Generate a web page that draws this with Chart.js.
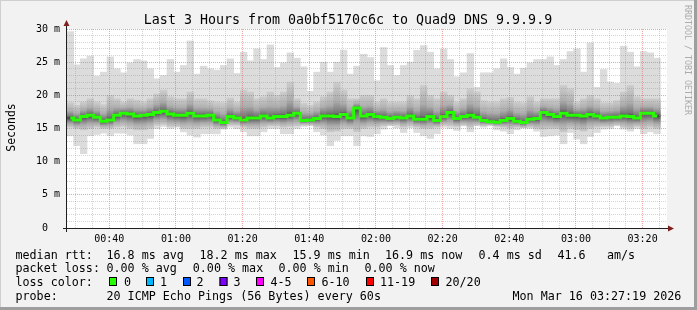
<!DOCTYPE html>
<html>
<head>
<meta charset="utf-8">
<script src="https://cdn.jsdelivr.net/npm/chart.js@4.4.1/dist/chart.umd.min.js"></script>
<style>
  html, body { margin: 0; padding: 0; background: #f2f2f2; }
  #wrap { position: relative; width: 697px; height: 310px; }
</style>
</head>
<body>
<div id="wrap"><canvas id="smoke"></canvas></div>
<script>
// graph window: 00:27:19 .. 03:27:19, one smoke column per 2 minutes
const startMin = 27 + 19 / 60;
const spanMin = 180;
const slotMin = 2;

// ping spread (ms) per slot: fastest/slowest ping, inner band, median
const pingMax = [
  29.6, 24.6, 25.5, 25.9, 22.9, 23.5, 25.8, 24.0, 23.4, 24.9, 25.4, 25.2, 24.0, 22.5, 23.0, 25.4, 23.5, 24.5, 28.2, 23.2, 24.4, 24.0, 23.8,
  24.5, 25.5, 23.3, 26.5, 25.2, 27.0, 25.4, 27.6, 24.2, 24.9, 26.4, 25.6, 24.3, 20.6, 23.5, 25.0, 23.5, 25.0, 26.8, 23.2, 24.4, 26.2, 25.7,
  22.2, 27.2, 24.5, 23.0, 24.5, 25.0, 26.8, 27.5, 26.5, 24.0, 27.0, 25.4, 22.8, 23.4, 26.3, 21.2, 23.4, 23.4, 24.0, 25.5, 24.2, 23.2,
  24.1, 24.9, 25.4, 25.4, 25.8, 24.5, 25.4, 26.6, 27.0, 23.5, 27.9, 21.2, 23.9, 22.0, 21.8, 27.4, 26.5, 24.3, 26.6, 26.4, 25.6
];
const pingMin = [
  13.9, 12.4, 11.2, 13.9, 14.1, 14.3, 13.9, 14.3, 14.3, 14.0, 12.7, 12.7, 13.5, 15.0, 15.3, 15.0, 15.2, 14.5, 14.0, 13.7, 14.2, 14.2, 14.2,
  14.9, 15.2, 15.0, 14.5, 13.9, 13.9, 14.5, 15.0, 15.0, 14.2, 14.2, 15.0, 15.3, 15.4, 14.5, 14.0, 12.4, 13.2, 13.9, 13.9, 12.4, 13.9, 13.8,
  14.2, 14.9, 15.4, 15.1, 14.4, 15.1, 14.4, 13.9, 13.5, 14.2, 15.2, 15.0, 14.7, 15.4, 14.5, 15.4, 15.2, 15.4, 14.8, 14.6, 14.2, 14.8,
  15.1, 15.0, 14.6, 13.8, 13.9, 14.0, 12.7, 14.4, 13.4, 12.7, 13.8, 14.4, 14.9, 15.0, 15.4, 14.9, 14.6, 15.0, 14.2, 14.5, 14.2
];
const upper = [
  18.9, 18.5, 19.0, 19.5, 19.0, 18.6, 20.0, 19.5, 19.0, 19.5, 19.3, 19.0, 19.5, 20.2, 20.8, 19.8, 19.5, 19.5, 20.5, 19.5, 19.5, 19.2, 19.0,
  18.9, 19.6, 19.0, 20.8, 20.5, 19.5, 19.8, 20.5, 20.0, 20.5, 22.0, 19.5, 18.8, 18.5, 19.0, 19.8, 20.5, 22.0, 20.8, 19.5, 19.5, 20.0, 20.0,
  19.0, 19.5, 19.0, 19.0, 19.0, 20.0, 19.5, 21.5, 20.0, 19.5, 20.5, 20.0, 19.0, 19.5, 21.0, 20.5, 19.2, 19.0, 19.0, 19.5, 19.7, 19.0,
  18.9, 19.8, 19.0, 19.5, 19.5, 19.5, 21.5, 21.0, 19.0, 19.5, 20.0, 19.5, 18.9, 18.9, 19.2, 20.5, 21.5, 19.8, 19.5, 19.5, 19.5
];
const lower = [
  15.2, 15.0, 14.8, 15.0, 15.2, 15.0, 15.0, 15.2, 15.3, 15.0, 14.8, 14.8, 15.0, 15.5, 15.6, 15.3, 15.3, 15.0, 15.0, 15.0, 15.2, 15.2, 15.0,
  15.0, 15.5, 15.5, 15.2, 15.0, 15.0, 15.2, 15.4, 15.4, 15.2, 15.3, 15.4, 15.5, 15.5, 15.2, 15.0, 14.5, 14.6, 15.0, 15.0, 14.5, 15.0, 15.2,
  15.2, 15.4, 15.5, 15.5, 15.2, 15.4, 15.2, 15.0, 15.0, 15.2, 15.5, 15.4, 15.3, 15.5, 15.2, 15.5, 15.4, 15.5, 15.3, 15.2, 15.0, 15.2,
  15.1, 15.2, 15.0, 14.9, 15.0, 15.0, 14.5, 15.0, 14.8, 14.6, 15.0, 15.2, 15.3, 15.3, 15.5, 15.2, 15.0, 15.3, 15.0, 15.2, 15.0
];
const median = [
  16.6, 16.3, 16.8, 17.0, 16.7, 16.1, 16.3, 17.0, 17.3, 17.2, 16.9, 17.0, 17.1, 17.4, 17.6, 17.2, 17.0, 17.0, 17.3, 16.9, 16.9, 17.0, 16.3,
  15.9, 16.8, 16.6, 16.3, 16.6, 16.6, 16.9, 16.6, 16.8, 16.8, 17.0, 17.3, 16.2, 16.3, 16.5, 16.9, 16.9, 16.8, 17.1, 16.6, 18.1, 16.9, 17.1,
  16.8, 16.7, 16.5, 16.7, 16.6, 16.9, 16.4, 16.4, 16.8, 16.2, 16.8, 17.4, 16.5, 16.8, 17.0, 16.7, 16.2, 16.0, 15.95, 16.2, 16.5, 16.1,
  15.9, 16.4, 16.5, 17.4, 17.1, 16.8, 17.3, 17.0, 17.0, 16.9, 17.1, 16.9, 16.6, 16.7, 16.7, 16.9, 16.8, 16.6, 17.3, 17.3, 16.9
];

const lossLabels = ['0', '1', '2', '3', '4-5', '6-10', '11-19', '20/20'];
const lossColors = ['#26ff00', '#00b8ff', '#0059ff', '#7e00ff', '#ff00fe', '#ff5500', '#ff0000', '#a10000'];

const MONO = '"DejaVu Sans Mono", monospace';
Chart.defaults.font.family = MONO;
Chart.defaults.color = '#000';

const slotX = i => startMin + slotMin * (i + 0.5);
const hhmm = m => String(Math.floor(m / 60)).padStart(2, '0') + ':' + String(Math.round(m % 60)).padStart(2, '0');

const outerData = pingMax.map((v, i) => ({ x: slotX(i), y: [pingMin[i], v] }));
const innerData = upper.map((v, i) => ({ x: slotX(i), y: [lower[i], v] }));
const medData = median.map((v, i) => ({ x: slotX(i), y: v }));

// darker towards the median, like the stacked ping shades
function smokeShade(c) {
  if (c.dataIndex === undefined) return '#aaa';
  const i = c.dataIndex;
  const y = c.chart.scales.y;
  const top = y.getPixelForValue(upper[i]);
  const bot = y.getPixelForValue(lower[i]);
  const mid = y.getPixelForValue(median[i]);
  if (!isFinite(top) || bot - top < 1) return '#888';
  let f = (mid - top) / (bot - top);
  f = Math.min(0.97, Math.max(0.03, f));
  const g = c.chart.ctx.createLinearGradient(0, top, 0, bot);
  g.addColorStop(0, '#cdcdcd');
  g.addColorStop(f * 0.55, '#acacac');
  g.addColorStop(f * 0.88, '#777777');
  g.addColorStop(f, '#444444');
  g.addColorStop(f + (1 - f) * 0.25, '#757575');
  g.addColorStop(f + (1 - f) * 0.6, '#a8a8a8');
  g.addColorStop(1, '#c9c9c9');
  return g;
}

const decor = {
  id: 'decor',
  beforeDraw(chart) {
    const { ctx, chartArea: a } = chart;
    ctx.save();
    ctx.fillStyle = '#f2f2f2';
    ctx.fillRect(0, 0, chart.width, chart.height);
    ctx.fillStyle = '#ffffff';
    ctx.fillRect(a.left, a.top, a.right - a.left, a.bottom - a.top);
    ctx.restore();
  },
  afterDraw(chart) {
    const { ctx, chartArea: a } = chart;
    ctx.save();

    // axes + arrows
    ctx.strokeStyle = '#1f1f1f';
    ctx.lineWidth = 1;
    ctx.beginPath();
    ctx.moveTo(a.left - 0.5, a.bottom + 4);
    ctx.lineTo(a.left - 0.5, a.top - 6);
    ctx.moveTo(a.left - 4, a.bottom + 0.5);
    ctx.lineTo(a.right + 1, a.bottom + 0.5);
    ctx.stroke();
    ctx.fillStyle = '#801f1f';
    ctx.beginPath();
    ctx.moveTo(a.left - 0.5, a.top - 9);
    ctx.lineTo(a.left - 3.5, a.top - 3);
    ctx.lineTo(a.left + 2.5, a.top - 3);
    ctx.closePath();
    ctx.fill();
    ctx.beginPath();
    ctx.moveTo(a.right + 7, a.bottom + 0.5);
    ctx.lineTo(a.right + 1, a.bottom - 2.5);
    ctx.lineTo(a.right + 1, a.bottom + 3.5);
    ctx.closePath();
    ctx.fill();

    // title
    ctx.fillStyle = '#000';
    ctx.font = '13.3px ' + MONO;
    ctx.textAlign = 'center';
    ctx.textBaseline = 'alphabetic';
    ctx.fillText('Last 3 Hours from 0a0bf5170c6c to Quad9 DNS 9.9.9.9', 348, 23.5);

    // y title
    ctx.save();
    ctx.translate(15, 127.5);
    ctx.rotate(-Math.PI / 2);
    ctx.font = '11.5px ' + MONO;
    ctx.fillText('Seconds', 0, 0);
    ctx.restore();

    // watermark
    ctx.save();
    ctx.translate(685, 5);
    ctx.rotate(Math.PI / 2);
    ctx.textAlign = 'left';
    ctx.fillStyle = '#ababab';
    ctx.font = '8.3px ' + MONO;
    ctx.fillText('RRDTOOL / TOBI OETIKER', 0, 0);
    ctx.restore();

    // legend
    ctx.textAlign = 'left';
    ctx.font = '11.7px ' + MONO;
    const t = (s, x, y) => ctx.fillText(s, x, y);
    t('median rtt:', 15.5, 258.5);
    t('16.8 ms avg', 106.5, 258.5);
    t('18.2 ms max', 199.5, 258.5);
    t('15.9 ms min', 292.5, 258.5);
    t('16.9 ms now', 385, 258.5);
    t('0.4 ms sd', 478.5, 258.5);
    t('41.6', 557.5, 258.5);
    t('am/s', 607, 258.5);

    t('packet loss:', 15.5, 272.3);
    t('0.00 % avg', 106.5, 272.3);
    t('0.00 % max', 192.8, 272.3);
    t('0.00 % min', 278.5, 272.3);
    t('0.00 % now', 364.5, 272.3);

    t('loss color:', 15.5, 286.2);
    const boxX = [109, 146, 183, 219.5, 256, 307, 366, 431];
    const labX = [124, 160, 196.5, 233.5, 270.5, 321.5, 380, 445.5];
    lossLabels.forEach((lab, i) => {
      ctx.fillStyle = lossColors[i];
      ctx.fillRect(boxX[i], 277, 8, 9);
      ctx.strokeStyle = '#000';
      ctx.strokeRect(boxX[i] + 0.5, 277.5, 7, 8);
      ctx.fillStyle = '#000';
      t(lab, labX[i], 286.2);
    });

    t('probe:', 15.5, 299.8);
    t('20 ICMP Echo Pings (56 Bytes) every 60s', 106.5, 299.8);
    t('Mon Mar 16 03:27:19 2026', 512.5, 299.8);

    // 3d frame
    ctx.fillStyle = '#cfcfcf';
    ctx.fillRect(0, 0, chart.width, 1);
    ctx.fillRect(0, 0, 1, chart.height);
    ctx.fillStyle = '#9e9e9e';
    ctx.fillRect(chart.width - 3, 0, 3, chart.height);
    ctx.fillRect(0, chart.height - 3, chart.width, 3);
    ctx.restore();
  }
};

const minorGrid = 'rgba(143,143,143,0.38)';
const majorGrid = 'rgba(222,80,80,0.5)';

new Chart(document.getElementById('smoke'), {
  type: 'bar',
  data: {
    datasets: [
      {
        type: 'line',
        data: medData,
        borderColor: '#26ff00',
        borderWidth: 3,
        pointRadius: 0,
        stepped: 'middle',
        order: 0
      },
      {
        data: innerData,
        backgroundColor: smokeShade,
        borderWidth: 0,
        barPercentage: 1,
        categoryPercentage: 1,
        grouped: false,
        order: 1
      },
      {
        data: outerData,
        backgroundColor: '#dcdcdc',
        borderWidth: 0,
        barPercentage: 1,
        categoryPercentage: 1,
        grouped: false,
        order: 2
      }
    ]
  },
  options: {
    responsive: true,
    maintainAspectRatio: false,
    animation: false,
    events: [],
    layout: { padding: { top: 29, right: 30, bottom: 0, left: 0 } },
    plugins: { legend: { display: false }, tooltip: { enabled: false }, title: { display: false } },
    scales: {
      x: {
        type: 'linear',
        min: startMin,
        max: startMin + spanMin,
        offset: false,
        afterFit: s => { s.height = 82; },
        afterBuildTicks: s => {
          const ticks = [];
          for (let m = 30; m < startMin + spanMin; m += 5) ticks.push({ value: m });
          s.ticks = ticks;
        },
        grid: {
          z: 1,
          offset: false,
          drawTicks: false,
          lineWidth: 1,
          color: c => (c.tick && c.tick.value % 20 === 0) ? majorGrid : minorGrid
        },
        border: { display: false, dash: [1, 1] },
        ticks: {
          autoSkip: false,
          maxRotation: 0,
          padding: 5,
          font: { size: 10 },
          color: '#000',
          callback: v => v % 20 === 0 ? hhmm(v) : ''
        }
      },
      y: {
        min: 0,
        max: 30,
        afterFit: s => { s.width = 67; },
        afterBuildTicks: s => {
          const ticks = [];
          for (let v = 0; v <= 30; v += 1) ticks.push({ value: v });
          s.ticks = ticks;
        },
        grid: {
          z: 1,
          drawTicks: false,
          lineWidth: 1,
          color: c => (c.tick && c.tick.value % 5 === 0) ? majorGrid : minorGrid
        },
        border: { display: false, dash: [1, 1] },
        ticks: {
          autoSkip: false,
          padding: 7,
          font: { size: 10 },
          color: '#000',
          callback: v => v % 5 !== 0 ? '' : (v === 0 ? '0  ' : v + ' m')
        }
      }
    }
  },
  plugins: [decor]
});
</script>
</body>
</html>
